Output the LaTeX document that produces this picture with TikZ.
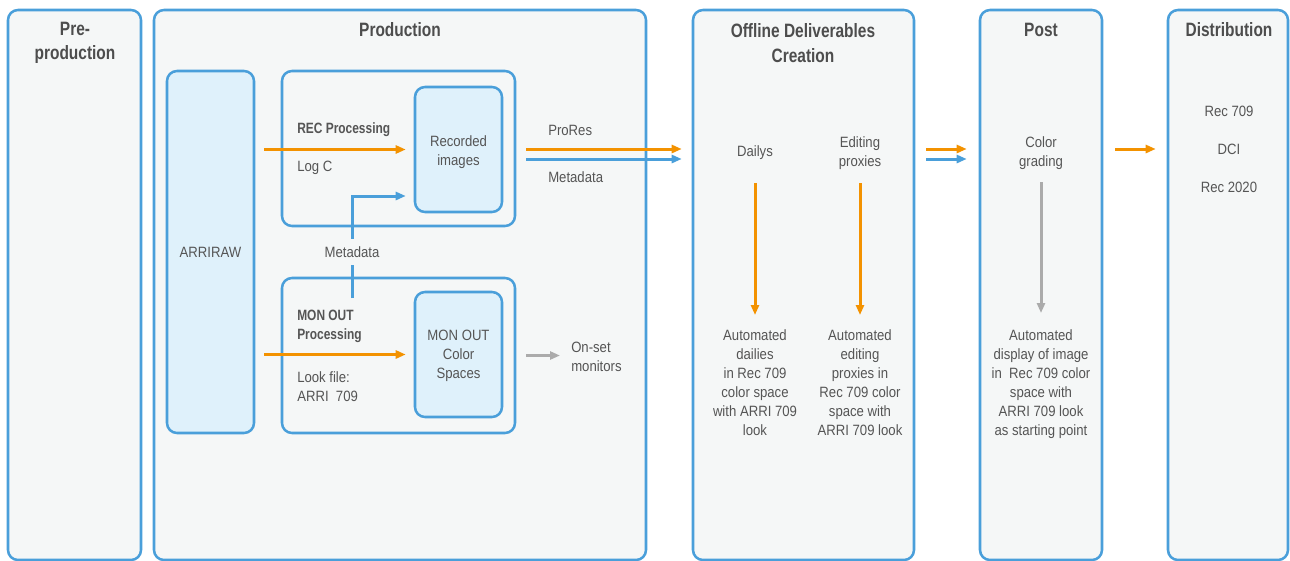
\documentclass[tikz,border=0pt]{standalone}
\usepackage{fontspec}
\setmainfont[FakeStretch=0.88,BoldFeatures={FakeStretch=0.8}]{Liberation Sans}
\usetikzlibrary{positioning,fit,calc,arrows.meta}

\definecolor{arriblue}{HTML}{4A9FDA}
\definecolor{lightblue}{HTML}{DFF1FB}
\definecolor{panelgray}{HTML}{F5F7F7}
\definecolor{arriorange}{HTML}{F39200}
\definecolor{arrigray}{HTML}{ABABAB}
\definecolor{textgray}{HTML}{555555}
\definecolor{titlegray}{HTML}{4D4D4D}

\begin{document}
\begin{tikzpicture}[
    x=0.75pt, y=-0.75pt,
    col/.style={
        draw=arriblue,
        line width=1.9pt,
        rounded corners=7.5pt,
        fill=panelgray,
        inner sep=0pt
    },
    procbox/.style={col},
    imgbox/.style={col, fill=lightblue},
    title/.style={font=\fontsize{14.5}{18.5}\selectfont\bfseries, text=titlegray, align=center, inner sep=0pt},
    txt/.style={font=\fontsize{11.2}{14.25}\selectfont, text=textgray, align=center, inner sep=0pt},
    lbl/.style={txt, align=left, anchor=west},
    boldlbl/.style={lbl, font=\fontsize{11.2}{14.25}\selectfont\bfseries},
    flow/.style={line width=2.25pt, -{Triangle[length=7.5pt,width=6pt]}},
    orangearrow/.style={flow, draw=arriorange},
    bluearrow/.style={flow, draw=arriblue},
    grayarrow/.style={flow, draw=arrigray}
]

\useasboundingbox (0,0) rectangle (1290,561);

% Columns
\node[col, fit={(8,10)(141,560)}] (pre) {};
\node[col, fit={(154,10)(646,560)}] (prod) {};
\node[col, fit={(693,10)(914,560)}] (offline) {};
\node[col, fit={(980,10)(1102,560)}] (post) {};
\node[col, fit={(1168,10)(1288,560)}] (dist) {};

\node[title] (pretitle) at (75,43) {Pre-\\production};
\node[title] (prodtitle) at (400,30) {Production};
\node[title] (offtitle) at (803,43) {Offline Deliverables\\Creation};
\node[title] (posttitle) at (1041,30) {Post};
\node[title] (disttitle) at (1229,30) {Distribution};

% Production
\node[imgbox, fit={(167,71)(254,433)}] (arriraw) {};
\node[txt] (arrirawtxt) at (arriraw) {ARRIRAW};

\node[procbox, fit={(282,71)(515,226)}] (rec) {};
\node[imgbox, fit={(415,87)(502,212)}] (recimg) {};
\node[txt] (recimgtxt) at ($(recimg)+(0,2.5)$) {Recorded\\images};
\node[boldlbl] (recproc) at (297,130) {REC Processing};
\node[lbl] (logc) at (297,168) {Log C};

\node[procbox, fit={(282,278)(515,433)}] (mon) {};
\node[imgbox, fit={(415,292)(502,417)}] (monimg) {};
\node[txt] (monimgtxt) at ($(monimg)+(0,1.5)$) {MON OUT\\Color\\Spaces};
\node[boldlbl] (monproc) at (297,326.5) {MON OUT\\Processing};
\node[lbl] (lookfile) at (297,386.5) {Look file:\\ARRI\ \ 709};
\node[lbl] (onset) at (571,356.5) {On-set\\monitors};

\draw[orangearrow] ($(arriraw.east |- recimg)+(9,0)$) -- ($(recimg.west)+(-8,0)$);
\draw[orangearrow] ($(arriraw.east |- monimg)+(9,0)$) -- ($(monimg.west)+(-8,0)$);
\draw[grayarrow] ($(mon.east)+(10,0)$) -- ($(onset.west |- mon.east)+(-11,0)$);

% Metadata from MON OUT to recorded images
\coordinate (metasrc) at (352,298);
\draw[bluearrow] (metasrc) |- node[pos=0.225, txt, fill=panelgray, inner xsep=2pt, inner ysep=5.5pt] (monmeta) {Metadata} ($(recimg.west)+(-8,46.5)$);

% Out of production
\draw[orangearrow] ($(rec.east)+(10,0.5)$) -- ($(offline.west |- rec.east)+(-10,0.5)$);
\draw[bluearrow] ($(rec.east)+(10,10.5)$) -- ($(offline.west |- rec.east)+(-10,10.5)$);
\node[lbl] (prores) at (548,130) {ProRes};
\node[lbl] (recmeta) at (548,177) {Metadata};

% Offline deliverables
\node[txt] (dailys) at (755,153) {Dailys};
\node[txt] (editing) at (860,153.5) {Editing\\proxies};
\node[txt, anchor=north] (autodailies) at (755,329) {Automated\\dailies\\in Rec 709\\color space\\with ARRI 709\\look};
\node[txt, anchor=north] (autoproxies) at (860,329) {Automated\\editing\\proxies in\\Rec 709 color\\space with\\ARRI 709 look};
\draw[orangearrow] ($(dailys)+(0,30)$) -- ($(autodailies.north)+(0,-14)$);
\draw[orangearrow] ($(editing)+(0,29.5)$) -- ($(autoproxies.north)+(0,-14)$);

\draw[orangearrow] ($(offline.east |- rec.east)+(11,0.5)$) -- ($(post.west |- rec.east)+(-12,0.5)$);
\draw[bluearrow] ($(offline.east |- rec.east)+(11,10.5)$) -- ($(post.west |- rec.east)+(-12,10.5)$);

% Post
\node[txt] (grading) at (1041,153.5) {Color\\grading};
\node[txt, anchor=north] (autodisplay) at (1041,329) {Automated\\display of image\\in\ \ Rec 709 color\\space with\\ARRI 709 look\\as starting point};
\draw[grayarrow] ($(grading)+(0,28.5)$) -- ($(autodisplay.north)+(0,-16)$);

\draw[orangearrow] ($(post.east |- rec.east)+(12,0.5)$) -- ($(dist.west |- rec.east)+(-11,0.5)$);

% Distribution
\node[txt, font=\fontsize{11.2}{28.5}\selectfont] (formats) at (1229,149.5) {Rec 709\\DCI\\Rec 2020};

\end{tikzpicture}
\end{document}
